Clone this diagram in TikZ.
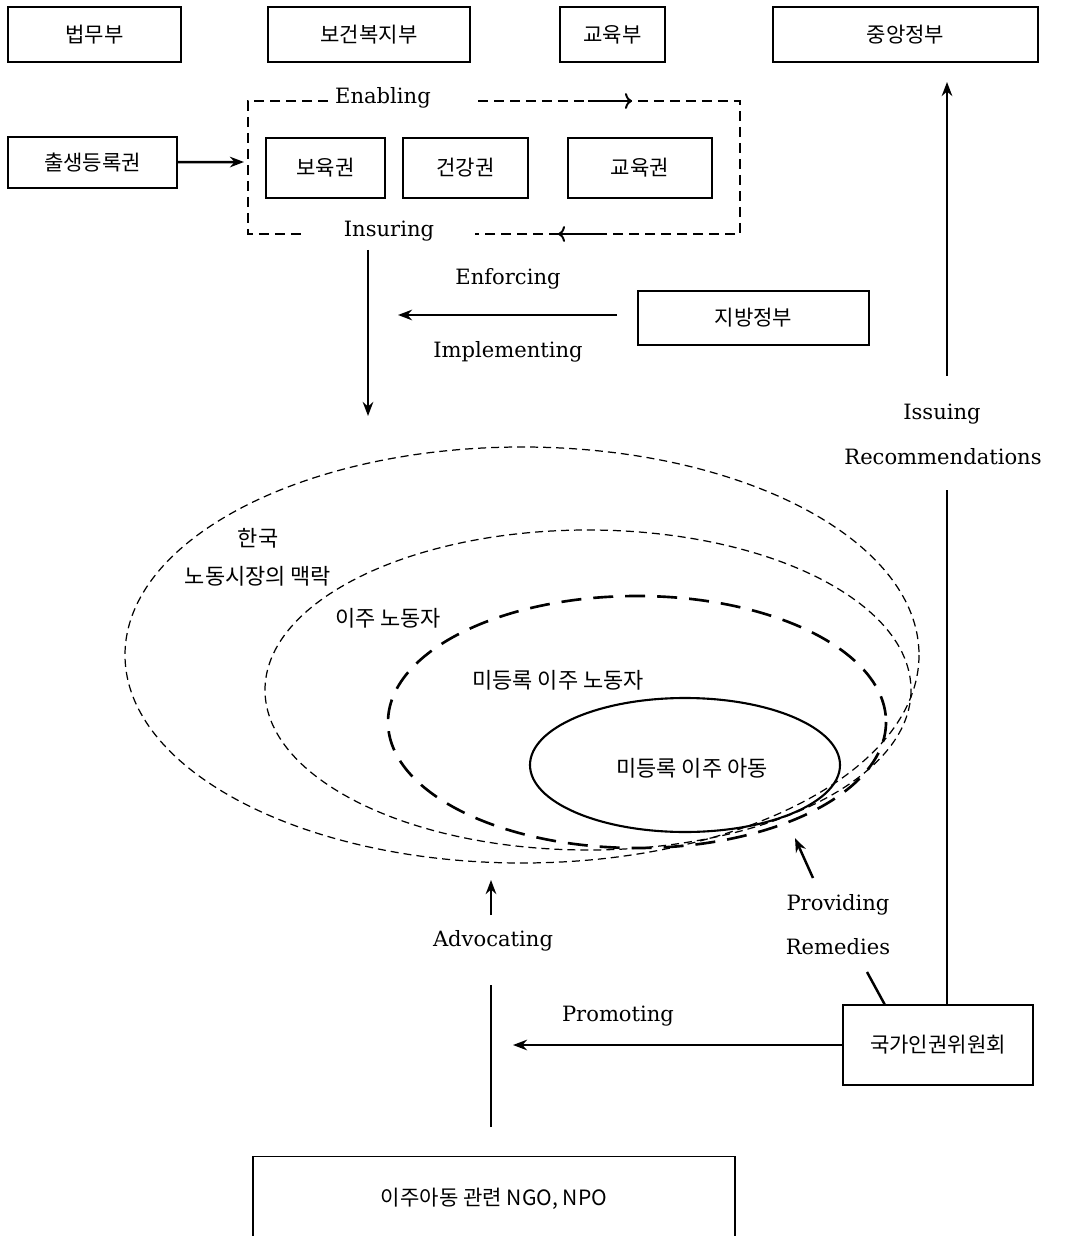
\documentclass[tikz,border=0pt]{standalone}
\usepackage{fontspec}
\setmainfont{DejaVu Serif}
\newfontfamily\kor{Noto Sans CJK KR}
\usetikzlibrary{arrows,arrows.meta,shapes}
\tikzstyle{obox}=[rectangle,draw=black,line width=0.9pt,inner sep=0pt,minimum height=1.1cm,font=\kor\fontsize{12}{14}\selectfont]
\tikzstyle{lbl}=[inner sep=1pt,font=\fontsize{12}{15}\selectfont]
\tikzstyle{klbl}=[inner sep=1pt,font=\kor\fontsize{12.5}{15}\selectfont]
\tikzstyle{dgraph}=[->,>={Stealth[length=8pt,width=6pt]},line width=1.4pt]
\tikzstyle{dbox}=[line width=1pt,dash pattern=on 0.2cm off 0.12cm]
\tikzstyle{thin dash}=[line width=0.7pt,dash pattern=on 0.16cm off 0.1cm]
\tikzstyle{thick dash}=[line width=1.5pt,dash pattern=on 0.4cm off 0.24cm]

\begin{document}
\begin{tikzpicture}[x=0.02cm,y=-0.02cm,dgraph]
\useasboundingbox (0,0) rectangle (1064,1236);
% ministries
\node[obox,minimum width=3.46cm] (law) at (94.5,34.5) {법무부};
\node[obox,minimum width=4.04cm] (welfare) at (369,34.5) {보건복지부};
\node[obox,minimum width=2.1cm] (edu) at (612.5,34.5) {교육부};
\node[obox,minimum width=5.3cm] (central) at (905.5,34.5) {중앙정부};
% rights
\node[obox,minimum width=3.38cm,minimum height=1.02cm] (birth) at (92.5,162.5) {출생등록권};
\node[obox,minimum width=2.38cm,minimum height=1.2cm] (care) at (325.5,168) {보육권};
\node[obox,minimum width=2.5cm,minimum height=1.2cm] (health) at (465.5,168) {건강권};
\node[obox,minimum width=2.88cm,minimum height=1.2cm] (eduright) at (640,168) {교육권};
\draw[dbox,-] (328,101) -- (248,101) -- (248,234) -- (305,234);
\draw[dbox,-] (478,101) -- (740,101) -- (740,234) -- (475,234);
\node[lbl] (enabling) at (383,98) {Enabling};
\node[lbl] (insuring) at (389,231) {Insuring};
\coordinate (enabA) at (588,101);
\coordinate (enabB) at (632,101);
\coordinate (insA) at (600,234);
\coordinate (insB) at (558,234);
\draw[>={To[length=4pt,width=9pt]},line width=1.1pt] (enabA) -- (enabB);
\draw[>={To[length=4pt,width=9pt]},line width=1.1pt] (insA) -- (insB);
\coordinate (boxIn) at (244,162);
\draw (birth) -- (boxIn);
% local government
\node[obox,minimum width=4.62cm,minimum height=1.08cm] (local) at (753.5,318) {지방정부};
\node[lbl] (enforcing) at (508,279) {Enforcing};
\node[lbl] (implementing) at (508,352) {Implementing};
\coordinate (enfTail) at (617,315);
\coordinate (enfHead) at (398,315);
\draw (enfTail) -- (enfHead);
\coordinate (downTail) at (368,250);
\coordinate (downHead) at (368,416);
\draw (downTail) -- (downHead);
% nested circles
\draw[thin dash,-] (522,655) ellipse [x radius=397,y radius=208];
\draw[thin dash,-] (588,690) ellipse [x radius=323,y radius=160];
\draw[thick dash,-] (637,722) ellipse [x radius=249,y radius=126];
\draw[line width=1.2pt,-] (685,765) ellipse [x radius=155,y radius=67];
\node[klbl] (korea1) at (258,538) {한국};
\node[klbl] (korea2) at (258,576) {노동시장의 맥락};
\node[klbl] (migrant) at (388,618) {이주 노동자};
\node[klbl] (undoc) at (558,680) {미등록 이주 노동자};
\node[klbl] (child) at (692,768) {미등록 이주 아동};
% human rights commission
\node[obox,minimum width=3.8cm,minimum height=1.6cm] (nhrc) at (938,1045) {국가인권위원회};
\node[lbl] (issuing) at (942,414) {Issuing};
\node[lbl] (recomm) at (943,457) {Recommendations};
\coordinate (issueLow) at (947,490);
\coordinate (issueHigh) at (947,376);
\coordinate (issueHead) at (947,82);
\draw[-] (nhrc.north -| issueLow) -- (issueLow);
\draw (issueHigh) -- (issueHead);
\node[lbl] (providing) at (838,905) {Providing};
\node[lbl] (remedies) at (838,947) {Remedies};
\coordinate (remLow) at (885,1005);
\coordinate (remHigh) at (867,972);
\coordinate (remTail) at (813,878);
\coordinate (remHead) at (795,838);
\draw[-] (remLow) -- (remHigh);
\draw (remTail) -- (remHead);
\node[lbl] (promoting) at (618,1016) {Promoting};
\coordinate (promHead) at (513,1045);
\draw (nhrc.west) -- (promHead);
% NGO
\node[obox,minimum width=9.64cm,minimum height=1.7cm] (ngo) at (494,1199) {이주아동 관련 NGO, NPO};
\node[lbl] (advocating) at (493,941) {Advocating};
\coordinate (advLow) at (491,1127);
\coordinate (advMid) at (491,985);
\coordinate (advTail) at (491,915);
\coordinate (advHead) at (491,880);
\draw[-] (advLow) -- (advMid);
\draw (advTail) -- (advHead);
\end{tikzpicture}
\end{document}
